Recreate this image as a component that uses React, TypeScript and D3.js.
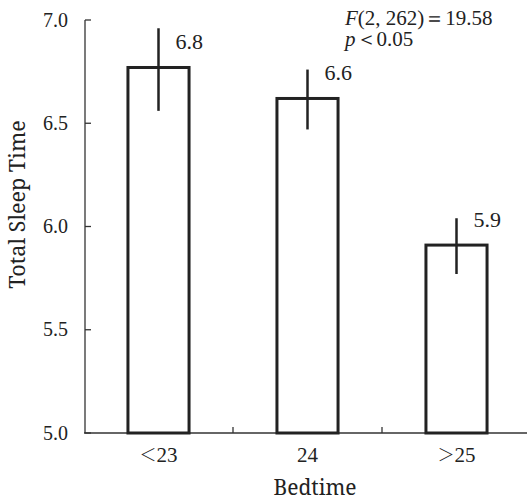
import React from "react";
import * as d3 from "d3";

const categories = ["＜23", "24", "＞25"];
const means = [6.77, 6.62, 5.91];
const errHigh = [6.96, 6.76, 6.04];
const errLow = [6.56, 6.47, 5.77];
const valueLabels = ["6.8", "6.6", "5.9"];
const yTicks = [5.0, 5.5, 6.0, 6.5, 7.0];

const W = 527;
const H = 500;
const numFont = "'Liberation Serif', 'Times New Roman', serif";
const wordFont = "'Noto Serif', serif";
const cjkFont = "'Noto Sans CJK JP', sans-serif";

function splitSymbol(s: string) {
  const first = s.charAt(0);
  if (first === "＜" || first === "＞") return [first, s.slice(1)];
  return ["", s];
}

export default function App() {
  const x = d3.scaleBand<string>().domain(categories).range([84, 531]).padding(0);
  const y = d3.scaleLinear().domain([5, 7]).range([433, 20]);
  const bw = x.bandwidth() * 0.41;
  const ink = "#222";

  return (
    <svg width={W} height={H} style={{ position: "absolute", left: 0, top: 0, background: "#fff" }}>
      {/* y axis */}
      <line x1={85} x2={85} y1={y(7)} y2={y(5)} stroke="#333" strokeWidth={1.3} />
      {yTicks.map((t) => (
        <g key={t}>
          <line x1={85} x2={91} y1={y(t)} y2={y(t)} stroke="#333" strokeWidth={1.3} />
          <text x={68} y={y(t)} dy="0.33em" textAnchor="end" fontFamily={numFont} fontSize={20} fill="#222">
            {t.toFixed(1)}
          </text>
        </g>
      ))}
      {/* x axis */}
      <line x1={84} x2={W} y1={y(5)} y2={y(5)} stroke="#333" strokeWidth={1.3} />
      {categories.slice(1).map((c) => (
        <line key={c} x1={x(c)!} x2={x(c)!} y1={y(5)} y2={y(5) - 6} stroke="#333" strokeWidth={1.3} />
      ))}
      {categories.map((c) => {
        const [sym, rest] = splitSymbol(c);
        return (
          <text key={c} x={x(c)! + x.bandwidth() / 2} y={462} textAnchor="middle" fontFamily={numFont} fontSize={21} fill="#222">
            {sym && (
              <tspan fontFamily={cjkFont} fontSize={17} fontWeight={300} dy={-1}>
                {sym}
              </tspan>
            )}
            <tspan dy={sym ? 1 : 0}>{rest}</tspan>
          </text>
        );
      })}
      {/* bars */}
      {categories.map((c, i) => {
        const cx = x(c)! + x.bandwidth() / 2;
        return (
          <g key={c}>
            <rect x={cx - bw / 2} y={y(means[i])} width={bw} height={y(5) - y(means[i])} fill="#fff" stroke={ink} strokeWidth={3} />
            <line x1={cx} x2={cx} y1={y(errHigh[i])} y2={y(errLow[i])} stroke={ink} strokeWidth={2.5} />
            <text x={cx + 17} y={y(means[i]) - 18} fontFamily={numFont} fontSize={22} fill="#222">
              {valueLabels[i]}
            </text>
          </g>
        );
      })}
      {/* annotation */}
      <text x={345} y={25} fontFamily={numFont} fontSize={21} fill="#222">
        <tspan fontStyle="italic">F</tspan>(2, 262)＝19.58
      </text>
      <text x={345} y={46} fontFamily={numFont} fontSize={21} fill="#222">
        <tspan fontStyle="italic">p</tspan>＜0.05
      </text>
      {/* axis titles */}
      <text x={315} y={495} textAnchor="middle" fontFamily={wordFont} fontSize={21} fill="#222">
        Bedtime
      </text>
      <text transform={`translate(25, 204.5) rotate(-90)`} textAnchor="middle" fontFamily={wordFont} fontSize={21.5} fill="#222">
        Total Sleep Time
      </text>
    </svg>
  );
}
